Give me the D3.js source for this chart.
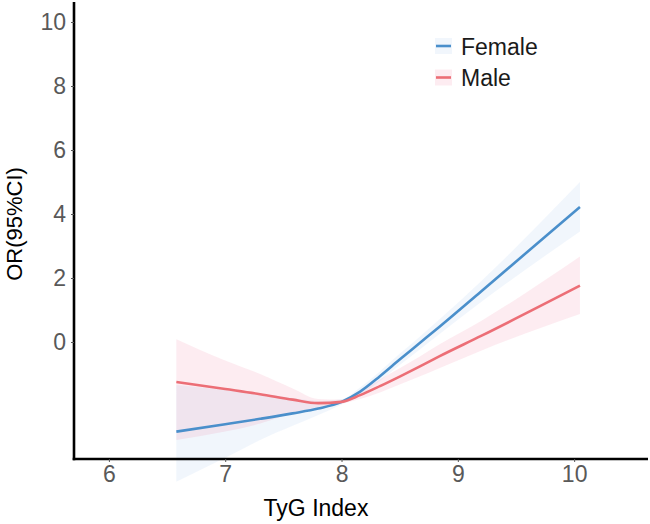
<!DOCTYPE html>
<html>
<head>
<meta charset="utf-8">
<script src="https://cdn.jsdelivr.net/npm/d3@7"></script>
<style>
  body { margin: 0; background: #fff; }
  text { font-family: "Liberation Sans", Arial, sans-serif; }
</style>
</head>
<body>
<div id="chart"></div>
<script>
var width = 650;
var height = 524;

// data ---------------------------------------------------------------
var tyg = [6.58, 7.0, 7.3, 7.58, 7.8, 8.0, 8.16, 8.33, 8.5, 8.67, 8.84, 9.2, 10.05];

var femaleOR    = [-2.80, -2.57, -2.40, -2.23, -2.08, -1.87, -1.55, -1.07, -0.55, -0.04, 0.47, 1.58, 4.22];
var femaleLower = [-4.37, -3.62, -3.06, -2.62, -2.28, -1.95, -1.66, -1.22, -0.72, -0.24, 0.24, 1.25, 3.45];
var femaleUpper = [-1.34, -1.50, -1.62, -1.75, -1.84, -1.79, -1.42, -0.92, -0.37, 0.16, 0.70, 1.90, 5.00];

var maleOR    = [-1.25, -1.47, -1.63, -1.80, -1.91, -1.87, -1.66, -1.38, -1.08, -0.77, -0.45, 0.19, 1.76];
var maleLower = [-3.06, -2.80, -2.55, -2.22, -2.04, -1.93, -1.78, -1.58, -1.33, -1.08, -0.82, -0.27, 0.875];
var maleUpper = [0.09, -0.58, -1.00, -1.45, -1.78, -1.80, -1.53, -1.17, -0.82, -0.46, -0.08, 0.66, 2.67];

var xTicks = [6, 7, 8, 9, 10];
var yTicks = [0, 2, 4, 6, 8, 10];

var groups = ["Female", "Male"];
var lineColors = {Female: "#4a8fcb", Male: "#ec6e76"};
var bandColors = {Female: "#4a90d9", Male: "#f06088"};
var bandOpacity = {Female: 0.08, Male: 0.12};

var series = [
  {name: "Female", or: femaleOR, lo: femaleLower, hi: femaleUpper},
  {name: "Male", or: maleOR, lo: maleLower, hi: maleUpper}
];

// scales ---------------------------------------------------------------
var plotLeft = 74, plotRight = 648, plotTop = 2, plotBottom = 459;

var xScale = d3.scaleLinear()
  .domain([5.7, 10.635])
  .range([plotLeft, plotRight]);

var yScale = d3.scaleLinear()
  .domain([-3.656, 10.625])
  .range([plotBottom, plotTop]);

var svg = d3.select("#chart")
  .append("svg")
  .attr("width", width)
  .attr("height", height);

var bands = svg.append("g");
var lines = svg.append("g");
var axes = svg.append("g");
var legend = svg.append("g");

// confidence bands and fitted curves ---------------------------------------
var area = d3.area()
  .x(function(d) { return xScale(d.x); })
  .y0(function(d) { return yScale(d.lo); })
  .y1(function(d) { return yScale(d.hi); })
  .curve(d3.curveMonotoneX);

var line = d3.line()
  .x(function(d) { return xScale(d.x); })
  .y(function(d) { return yScale(d.y); })
  .curve(d3.curveMonotoneX);

series.forEach(function(s) {
  var pts = tyg.map(function(x, i) {
    return {x: x, y: s.or[i], lo: s.lo[i], hi: s.hi[i]};
  });
  bands.append("path")
    .datum(pts)
    .attr("d", area)
    .attr("fill", bandColors[s.name])
    .attr("fill-opacity", bandOpacity[s.name]);
  lines.append("path")
    .datum(pts)
    .attr("d", line)
    .attr("fill", "none")
    .attr("stroke", lineColors[s.name])
    .attr("stroke-width", 2.6);
});

// axes -------------------------------------------------------------------
var xAxis = axes.append("g")
  .attr("transform", "translate(0," + plotBottom + ")")
  .call(d3.axisBottom(xScale).tickValues(xTicks).tickFormat(d3.format("d"))
    .tickSize(3).tickSizeOuter(0).tickPadding(4));

var yAxis = axes.append("g")
  .attr("transform", "translate(" + plotLeft + ",0)")
  .call(d3.axisLeft(yScale).tickValues(yTicks).tickFormat(d3.format("d"))
    .tickSize(3).tickSizeOuter(0).tickPadding(5));

[xAxis, yAxis].forEach(function(a) {
  a.select(".domain")
    .attr("stroke", "#000")
    .attr("stroke-width", 2.6);
  a.selectAll(".tick line")
    .attr("stroke", "#555");
  a.selectAll(".tick text")
    .attr("fill", "#595959")
    .style("font-size", "23px")
    .style("font-family", "'Liberation Sans', Arial, sans-serif");
});

// make the axis lines meet in the corner
xAxis.select(".domain").attr("d", "M" + (plotLeft - 1.3) + ",0H" + plotRight);
yAxis.select(".domain").attr("d", "M0," + plotTop + "V" + (plotBottom + 1.3));

axes.append("text")
  .attr("x", 316)
  .attr("y", 516)
  .attr("text-anchor", "middle")
  .style("font-size", "23px")
  .attr("fill", "#000")
  .text("TyG Index");

axes.append("text")
  .attr("transform", "translate(22,224) rotate(-90)")
  .attr("text-anchor", "middle")
  .style("font-size", "22px")
  .attr("fill", "#000")
  .text("OR(95%CI)");

// legend -----------------------------------------------------------------
groups.forEach(function(g, i) {
  var cy = 46 + i * 31.5;
  legend.append("rect")
    .attr("x", 435)
    .attr("y", cy - 8)
    .attr("width", 17)
    .attr("height", 16)
    .attr("fill", bandColors[g])
    .attr("fill-opacity", bandOpacity[g]);
  legend.append("line")
    .attr("x1", 436)
    .attr("x2", 451)
    .attr("y1", cy)
    .attr("y2", cy)
    .attr("stroke", lineColors[g])
    .attr("stroke-width", 2.6);
  legend.append("text")
    .attr("x", 461)
    .attr("y", cy + 8.5)
    .style("font-size", "23px")
    .attr("fill", "#1a1a1a")
    .text(g);
});
</script>
</body>
</html>
